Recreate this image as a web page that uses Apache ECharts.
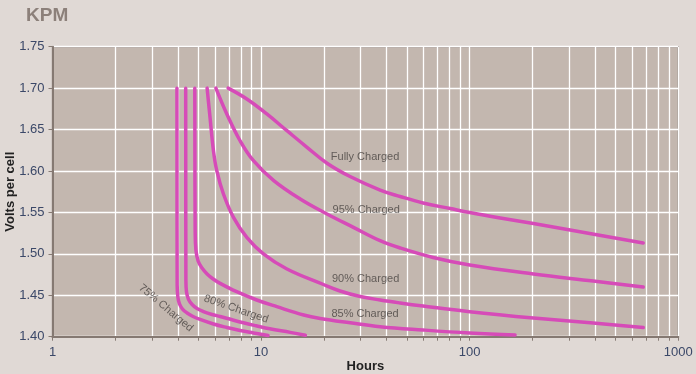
<!DOCTYPE html>
<html><head><meta charset="utf-8">
<script src="https://cdn.jsdelivr.net/npm/echarts@6/dist/echarts.min.js"></script>
<style>html,body{margin:0;padding:0;background:#e0d9d5}#c{width:696px;height:374px}</style>
</head><body><div id="c"></div>
<script>
const title = 'KPM';
const xName = 'Hours';
const yName = 'Volts per cell';
const names = ['Fully Charged', '95% Charged', '90% Charged', '85% Charged', '80% Charged', '75% Charged'];

const fullyH = [6.95, 8.54, 10.65, 13.3, 16.6, 20.7, 26.7, 37.2, 46.4, 59.8, 80.6, 100, 140, 202, 303, 679];
const fullyV = [1.700, 1.6869, 1.6688, 1.6486, 1.6286, 1.6094, 1.5933, 1.5770, 1.5692, 1.5614, 1.5547, 1.5499, 1.5433, 1.5366, 1.5288, 1.5131];

const p95H = [6.07, 6.85, 7.93, 9.19, 11.5, 15.4, 20.7, 27.7, 37.2, 46.4, 66.8, 100, 202, 391, 679];
const p95V = [1.700, 1.6688, 1.6365, 1.6124, 1.5884, 1.5662, 1.5481, 1.5320, 1.5159, 1.5071, 1.4956, 1.4865, 1.4757, 1.4672, 1.4600];

const p90H = [5.51, 5.69, 5.91, 6.13, 6.60, 7.37, 8.54, 10.26, 13.3, 19.9, 23.9, 29.9, 37.2, 46.4, 59.8, 100, 202, 391, 679];
const p90V = [1.700, 1.6649, 1.6245, 1.6004, 1.5722, 1.5441, 1.5200, 1.4999, 1.4817, 1.4630, 1.4552, 1.4485, 1.4443, 1.4407, 1.4370, 1.4302, 1.4226, 1.4165, 1.4111];

const p85H = [4.81, 4.83, 4.87, 4.99, 5.21, 5.51, 5.89, 6.36, 7.64, 9.53, 11.9, 16.0, 19.2, 26.7, 37.2, 59.8, 100, 165];
const p85V = [1.700, 1.5288, 1.5046, 1.4913, 1.4829, 1.4757, 1.4696, 1.4644, 1.4543, 1.4443, 1.4362, 1.4262, 1.4220, 1.4168, 1.4121, 1.4081, 1.4045, 1.4021];

const p80H = [4.35, 4.36, 4.39, 4.49, 4.67, 4.93, 5.29, 5.82, 6.36, 7.26, 8.23, 9.46, 11.0, 13.8, 16.3];
const p80V = [1.700, 1.4684, 1.4539, 1.4449, 1.4389, 1.4340, 1.4304, 1.4268, 1.4244, 1.4204, 1.4168, 1.4132, 1.4095, 1.4052, 1.4017];

const p75H = [3.95, 3.96, 3.99, 4.06, 4.20, 4.42, 4.72, 5.10, 5.91, 6.85, 7.93, 9.19, 10.8];
const p75V = [1.700, 1.4624, 1.4479, 1.4395, 1.4334, 1.4286, 1.4244, 1.4208, 1.4153, 1.4111, 1.4075, 1.4045, 1.4014];

const labelH = [31.5, 31.9, 31.7, 31.5, 7.59, 3.50];
const labelV = [1.6169, 1.5529, 1.4696, 1.4274, 1.4334, 1.4346];
const labelRot = [0, 0, 0, 0, -19, -40];

const xTickValues = [1,2,3,4,5,6,7,8,9,10,20,30,40,50,60,70,80,90,100,200,300,400,500,600,700,800,900,1000];
const xLabelValues = [1, 10, 100, 1000];

const curvesH = [fullyH, p95H, p90H, p85H, p80H, p75H];
const curvesV = [fullyV, p95V, p90V, p85V, p80V, p75V];

const lineColor = '#d64bb8';
const series = curvesH.map((hs, i) => ({
  type: 'line', name: names[i],
  data: hs.map((h, j) => [h, curvesV[i][j]]),
  showSymbol: false, symbol: 'none', smooth: 0.4,
  lineStyle: { color: lineColor, width: 3.5, cap: 'round', join: 'round' },
  z: 3, silent: true
}));
series.push({
  type: 'scatter', symbolSize: 0, silent: true, z: 4,
  data: names.map((n, i) => ({
    value: [labelH[i], labelV[i]], name: n,
    label: { rotate: labelRot[i] }
  })),
  label: {
    show: true, position: 'inside', formatter: p => p.name,
    color: '#4a4542', fontSize: 11, fontFamily: 'Liberation Sans'
  }
});

const chart = echarts.init(document.getElementById('c'), null, { renderer: 'canvas' });
chart.setOption({
  backgroundColor: '#e0d9d5',
  animation: false,
  title: {
    text: title, left: 21, top: 1,
    textStyle: { color: '#8c807a', fontSize: 19, fontWeight: 'bold', fontFamily: 'Liberation Sans' }
  },
  grid: {
    left: 52.5, right: 17.7, top: 46.7, bottom: 37.3, show: true,
    containLabel: false, outerBoundsMode: 'none',
    backgroundColor: '#c3b7af', borderColor: '#857972', borderWidth: 1.5
  },
  xAxis: {
    type: 'log', logBase: 10, min: 1, max: 1000,
    name: xName, nameLocation: 'middle', nameGap: 23, nameMoveOverlap: false,
    nameTextStyle: { color: '#222', fontSize: 13, fontWeight: 'bold', fontFamily: 'Liberation Sans' },
    axisLine: { show: true, lineStyle: { color: '#857972', width: 2 } },
    axisTick: { show: true, inside: false, length: 4, customValues: xTickValues, lineStyle: { color: '#857972', width: 1 } },
    axisLabel: { customValues: xLabelValues, color: '#3b4868', fontSize: 13, margin: 9, fontFamily: 'Liberation Sans', formatter: v => String(v) },
    splitLine: { show: true, lineStyle: { color: '#ffffff', width: 1.3 } },
    minorTick: { show: false }, minorSplitLine: { show: false }
  },
  yAxis: {
    type: 'value', min: 1.40, max: 1.75, interval: 0.05,
    name: yName, nameLocation: 'middle', nameGap: 36, nameRotate: 90, nameMoveOverlap: false,
    nameTextStyle: { color: '#222', fontSize: 13, fontWeight: 'bold', fontFamily: 'Liberation Sans' },
    axisLine: { show: true, lineStyle: { color: '#857972', width: 2 } },
    axisTick: { show: true, inside: false, length: 4, lineStyle: { color: '#857972', width: 1 } },
    axisLabel: { color: '#3b4868', fontSize: 13, margin: 8, fontFamily: 'Liberation Sans', formatter: v => v.toFixed(2) },
    splitLine: { show: true, lineStyle: { color: '#ffffff', width: 1.3 } }
  },
  series: series
});
</script>
</body></html>
